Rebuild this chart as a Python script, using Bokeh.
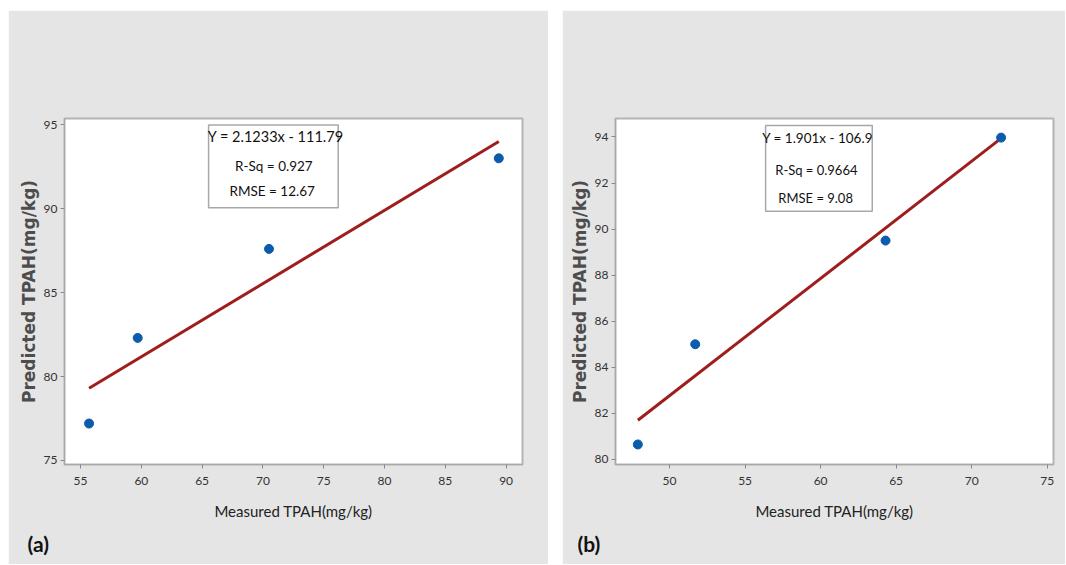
from bokeh.plotting import figure
from bokeh.models import Range1d, FixedTicker, Label, BoxAnnotation, Spacer, Title
from bokeh.layouts import row, column
from bokeh.embed import file_html
from bokeh.resources import INLINE

# ---------------- data: panel (a) ----------------
a_measured = [55.7, 59.7, 70.5, 89.4]
a_predicted = [77.2, 82.3, 87.6, 93.0]
a_fit_x = [55.7, 89.4]
a_fit_y = [79.3, 94.0]
a_x_ticks = [55, 60, 65, 70, 75, 80, 85, 90]
a_y_ticks = [75, 80, 85, 90, 95]
a_stats = ["Y = 2.1233x - 111.79", "R-Sq = 0.927", "RMSE = 12.67"]

# ---------------- data: panel (b) ----------------
b_measured = [47.9, 51.7, 64.3, 71.95]
b_predicted = [80.65, 85.0, 89.5, 93.97]
b_fit_x = [47.9, 71.8]
b_fit_y = [81.7, 93.86]
b_x_ticks = [50, 55, 60, 65, 70, 75]
b_y_ticks = [80, 82, 84, 86, 88, 90, 92, 94]
b_stats = ["Y = 1.901x - 106.9", "R-Sq =  0.9664", "RMSE = 9.08"]

x_title = "Measured TPAH(mg/kg)"
y_title = "Predicted TPAH(mg/kg)"

FONT = "Lato"
BG = "#e5e5e5"
DOT = "#0b5cad"
LINE = "#9e1d1d"


def make_panel(width, height, xr, yr, xt, yt, mb, tag, tag_offset):
    p = figure(width=width, height=height, output_backend="svg", toolbar_location=None,
               x_range=Range1d(*xr), y_range=Range1d(*yr),
               min_border_left=mb[0], min_border_right=mb[1],
               min_border_top=mb[2], min_border_bottom=mb[3])
    p.background_fill_color = "white"
    p.border_fill_color = BG
    p.outline_line_color = "#b4b4b4"
    p.outline_line_width = 2
    p.grid.visible = False
    p.xaxis.ticker = FixedTicker(ticks=xt)
    p.yaxis.ticker = FixedTicker(ticks=yt)
    for ax in (p.xaxis[0], p.yaxis[0]):
        ax.axis_line_color = "#a8a8a8"
        ax.major_tick_line_color = "#8a8a8a"
        ax.major_tick_in = 0
        ax.major_tick_out = 4
        ax.minor_tick_line_color = None
        ax.major_label_text_font = FONT
        ax.major_label_text_font_size = "12px"
        ax.major_label_text_color = "#333333"
    p.xaxis.major_label_standoff = 8
    p.yaxis.major_label_standoff = 3
    p.xaxis.axis_label = x_title
    p.xaxis.axis_label_text_font = FONT
    p.xaxis.axis_label_text_font_size = "15px"
    p.xaxis.axis_label_text_font_style = "normal"
    p.xaxis.axis_label_text_color = "#222222"
    p.xaxis.axis_label_standoff = 14
    p.yaxis.axis_label = y_title
    p.yaxis.axis_label_text_font = "DejaVu Sans"
    p.yaxis.axis_label_text_font_size = "17px"
    p.yaxis.axis_label_text_font_style = "bold"
    p.yaxis.axis_label_text_color = "#4d4d4d"
    p.yaxis.axis_label_standoff = 2
    t = Title(text=tag, align="left", offset=tag_offset, standoff=13,
              text_font=FONT, text_font_size="21px", text_font_style="bold",
              text_color="#111111")
    p.add_layout(t, "below")
    return p


def add_stats(p, box, lines, pos, sizes):
    p.add_layout(BoxAnnotation(left=box[0], right=box[1], top=box[2], bottom=box[3],
                               fill_color="white", fill_alpha=1.0,
                               line_color="#a8a8a8", line_width=1.5, line_alpha=1.0))
    for txt, (x, y), s in zip(lines, pos, sizes):
        p.add_layout(Label(x=x, y=y, text=txt, text_align="center", text_baseline="middle",
                           text_font=FONT, text_font_size=s, text_color="#111111"))


# ---------------- panel (a) ----------------
pa = make_panel(540, 554, (53.68, 91.35), (74.76, 95.37), a_x_ticks, a_y_ticks,
                (56, 26, 108, 100), "(a)", -37)
pa.line(a_fit_x, a_fit_y, line_color=LINE, line_width=3)
pa.scatter(a_measured, a_predicted, size=9, fill_color=DOT, line_color=DOT)
add_stats(pa, (65.53, 76.19, 94.98, 90.05), a_stats,
          [(71.05, 94.27), (70.9, 92.56), (70.76, 91.03)], ["14.5px", "13.5px", "13.5px"])

# ---------------- panel (b) ----------------
pb = make_panel(503, 554, (46.42, 75.42), (79.78, 94.8), b_x_ticks, b_y_ticks,
                (53, 12, 106, 100), "(b)", -38)
pb.line(b_fit_x, b_fit_y, line_color=LINE, line_width=3)
pb.scatter(b_measured, b_predicted, size=9, fill_color=DOT, line_color=DOT)
add_stats(pb, (56.36, 63.42, 94.5, 90.77), b_stats,
          [(59.8, 93.94), (59.83, 92.57), (59.67, 91.35)], ["13.5px", "13px", "13px"])

layout = column(Spacer(height=10), row(Spacer(width=8), pa, Spacer(width=14), pb))
open("out.html", "w").write(file_html(layout, INLINE))
